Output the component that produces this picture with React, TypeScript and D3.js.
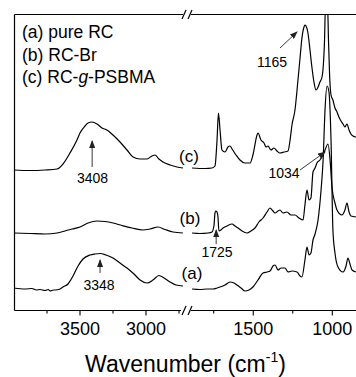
import React from 'react';
import * as d3 from 'd3';

// spectra: [wavenumber, relative absorbance (arb. units, offset included)]
const specAHigh = [
  [4000, 22], [3917, 21], [3864, 21.5], [3830, 20], [3803, 20.5], [3765, 19.5], [3740, 20.5], [3727, 19],
  [3700, 20], [3689, 20], [3651, 21], [3629, 23], [3591, 26], [3553, 34], [3515, 44], [3477, 51],
  [3424, 55], [3386, 56], [3348, 56.5], [3303, 55], [3250, 52], [3197, 47], [3144, 42], [3091, 36],
  [3045, 30], [2992, 27], [2947, 30], [2902, 34.5], [2864, 32], [2818, 28], [2773, 25], [2720, 24],
];
const specALow = [
  [1887, 21], [1837, 20.5], [1792, 21], [1755, 21], [1729, 22], [1710, 23], [1679, 25], [1647, 28],
  [1622, 27], [1603, 25], [1577, 22], [1552, 19], [1527, 20], [1502, 23], [1470, 30], [1438, 37],
  [1413, 38], [1394, 39], [1375, 44], [1362, 45], [1343, 40], [1324, 42], [1299, 42], [1280, 38],
  [1255, 39], [1223, 38], [1204, 34], [1192, 33], [1173, 50], [1160, 63], [1147, 55], [1135, 57],
  [1122, 70], [1109, 76], [1090, 90], [1071, 120], [1058, 150], [1046, 200], [1033, 224], [1021, 218],
  [1008, 170], [996, 80], [983, 57], [964, 43], [932, 38], [913, 44], [901, 52], [888, 46],
  [875, 40], [850, 38],
];

const specBHigh = [
  [4000, 77], [3879, 76.5], [3765, 76], [3674, 77], [3614, 79], [3561, 81], [3500, 83], [3439, 87],
  [3371, 89], [3311, 88.5], [3250, 87], [3182, 84.5], [3106, 82], [3023, 80], [2970, 81], [2909, 83],
  [2856, 80.5], [2795, 78], [2720, 77],
];
const specBLow = [
  [1887, 77], [1837, 76.5], [1786, 77], [1761, 78], [1748, 85], [1742, 97], [1736, 99], [1729, 98],
  [1723, 93], [1717, 79], [1704, 80], [1691, 82], [1666, 84], [1634, 86], [1615, 84], [1596, 82],
  [1571, 79], [1539, 77], [1514, 79], [1489, 82], [1464, 88], [1438, 92], [1413, 98], [1394, 102],
  [1375, 99], [1362, 97], [1343, 99], [1331, 100], [1312, 97], [1287, 98], [1261, 95], [1236, 95],
  [1211, 92], [1185, 90], [1173, 105], [1160, 120], [1147, 110], [1135, 112], [1122, 138], [1109, 142],
  [1097, 147], [1078, 150], [1059, 155], [1046, 160], [1027, 166], [1014, 150], [1002, 123], [983, 107],
  [970, 100], [939, 95], [920, 100], [907, 107], [894, 98], [882, 94], [850, 93],
];

const specCHigh = [
  [4000, 140], [3879, 139.5], [3765, 140], [3674, 141], [3629, 146], [3576, 157], [3523, 170], [3500, 177],
  [3462, 184], [3439, 187], [3409, 188], [3371, 186], [3333, 182], [3296, 180], [3250, 175], [3197, 168],
  [3144, 160], [3098, 153], [3045, 151], [2992, 151], [2955, 154], [2932, 155], [2902, 151], [2871, 148],
  [2818, 145], [2765, 143], [2720, 142],
];
const specCLow = [
  [1887, 142], [1805, 141.5], [1761, 142], [1742, 144], [1729, 170], [1720, 197], [1710, 180], [1698, 160],
  [1679, 158], [1660, 163], [1647, 164], [1634, 161], [1609, 155], [1584, 150], [1552, 147], [1520, 147],
  [1502, 155], [1476, 175], [1470, 177], [1451, 170], [1432, 167], [1419, 163], [1407, 164], [1388, 160],
  [1369, 162], [1350, 159], [1331, 157], [1305, 158], [1280, 159], [1267, 170], [1255, 185], [1236, 200],
  [1217, 230], [1204, 252], [1192, 272], [1179, 283], [1173, 285], [1166, 284], [1154, 277], [1141, 260],
  [1129, 243], [1116, 228], [1103, 220], [1090, 223], [1078, 228], [1065, 233], [1059, 240], [1049, 270],
  [1043, 305], [1030, 305], [1024, 270], [1017, 235], [1008, 215], [996, 210], [983, 202], [970, 198],
  [958, 193], [945, 189], [932, 186], [920, 183], [907, 186], [894, 180], [882, 176], [869, 174],
  [850, 173],
];

const leftMajor = [3500, 3000];
const leftMinor = [3750, 3250, 2750];
const rightMajor = [1500, 1000];
const rightMinor = [1750, 1250];

const legendLines = ['(a) pure RC', '(b) RC-Br', '(c) RC-g-PSBMA'];

const FONT = "'Liberation Sans', Arial, Helvetica, sans-serif";

export default function App() {
  const W = 356, H = 377;
  const top = 14.5, bottom = 310.5, left = 14.5;

  const xL = d3.scaleLinear().domain([4000, 2700]).range([14, 185.6]);
  const xR = d3.scaleLinear().domain([1900, 850]).range([190, 356]);
  const y = d3.scaleLinear().domain([0, 296]).range([310, 14]);

  const lineL = d3.line<number[]>().x(d => xL(d[0])).y(d => y(d[1])).curve(d3.curveMonotoneX);
  const lineR = d3.line<number[]>().x(d => xR(d[0])).y(d => y(d[1])).curve(d3.curveMonotoneX);

  const segs = [specAHigh, specBHigh, specCHigh].map(s => lineL(s));
  const segsR = [specALow, specBLow, specCLow].map(s => lineR(s));

  const breakMarks = (yy: number) => (
    <g stroke="#000" strokeWidth={1.2}>
      <line x1={182} y1={yy + 4.5} x2={186} y2={yy - 4.5} />
      <line x1={188} y1={yy + 4.5} x2={192} y2={yy - 4.5} />
    </g>
  );

  const arrow = (x1: number, y1: number, x2: number, y2: number) => (
    <line x1={x1} y1={y1} x2={x2} y2={y2} stroke="#222" strokeWidth={0.9} markerEnd="url(#ah)" />
  );

  return (
    <svg width={W} height={H} style={{ position: 'absolute', left: 0, top: 0, background: '#fff' }}
      fontFamily={FONT}>
      <defs>
        <clipPath id="plotclip">
          <rect x={14} y={14.5} width={342} height={296} />
        </clipPath>
        <marker id="ah" markerUnits="userSpaceOnUse" markerWidth={8} markerHeight={6}
          refX={7} refY={3} orient="auto">
          <path d="M0,0 L8,3 L0,6 z" fill="#222" />
        </marker>
      </defs>

      {/* frame */}
      <g stroke="#000" strokeWidth={1.2} fill="none">
        <line x1={left} y1={top} x2={left} y2={bottom} />
        <line x1={left} y1={top} x2={183} y2={top} />
        <line x1={191} y1={top} x2={W} y2={top} />
        <line x1={left} y1={bottom} x2={181} y2={bottom} />
        <line x1={191} y1={bottom} x2={W} y2={bottom} />
      </g>
      {breakMarks(top)}
      {breakMarks(bottom)}

      {/* ticks */}
      <g stroke="#000" strokeWidth={1.1}>
        {leftMajor.map(t => <line key={'lM' + t} x1={xL(t)} x2={xL(t)} y1={bottom} y2={bottom + 5} />)}
        {leftMinor.map(t => <line key={'lm' + t} x1={xL(t)} x2={xL(t)} y1={bottom} y2={bottom + 3} />)}
        {rightMajor.map(t => <line key={'rM' + t} x1={xR(t)} x2={xR(t)} y1={bottom} y2={bottom + 5} />)}
        {rightMinor.map(t => <line key={'rm' + t} x1={xR(t)} x2={xR(t)} y1={bottom} y2={bottom + 3} />)}
      </g>
      <g fontSize={18} textAnchor="middle" fill="#000">
        {leftMajor.map(t => <text key={'lt' + t} x={xL(t)} y={335}>{t}</text>)}
        {rightMajor.map(t => <text key={'rt' + t} x={xR(t)} y={335}>{t}</text>)}
      </g>
      <text x={185.5} y={372} fontSize={23} textAnchor="middle">
        Wavenumber (cm<tspan fontSize={14} dy={-10}>-1</tspan><tspan dy={10}>)</tspan>
      </text>

      {/* spectra */}
      <g clipPath="url(#plotclip)" fill="none" stroke="#000" strokeWidth={1.2} strokeLinejoin="round">
        {segs.map((d, i) => <path key={'sl' + i} d={d || ''} />)}
        {segsR.map((d, i) => <path key={'sr' + i} d={d || ''} />)}
      </g>

      {/* legend */}
      <g fontSize={17.5} fill="#000">
        <text x={22} y={38}>{legendLines[0]}</text>
        <text x={22} y={60.5}>{legendLines[1]}</text>
        <text x={22} y={83}>(c) RC-<tspan fontStyle="italic">g</tspan>-PSBMA</text>
      </g>

      {/* curve labels */}
      <g fontSize={17} textAnchor="middle" fill="#000">
        <text x={189} y={162}>(c)</text>
        <text x={190} y={224}>(b)</text>
        <text x={192} y={279}>(a)</text>
      </g>

      {/* annotations */}
      <g fontSize={14} textAnchor="middle" fill="#000">
        <text x={272} y={67}>1165</text>
        <text x={92.5} y={183}>3408</text>
        <text x={99} y={290}>3348</text>
        <text x={217} y={257}>1725</text>
        <text x={284} y={178}>1034</text>
      </g>
      {arrow(280, 48, 297, 32)}
      {arrow(xL(3408), 167, xL(3408), 141)}
      {arrow(xL(3348), 273, xL(3348), 260)}
      {arrow(xR(1725) - 1.5, 244, xR(1725) - 1.5, 230)}
      {arrow(300, 170, 325, 152)}
    </svg>
  );
}
